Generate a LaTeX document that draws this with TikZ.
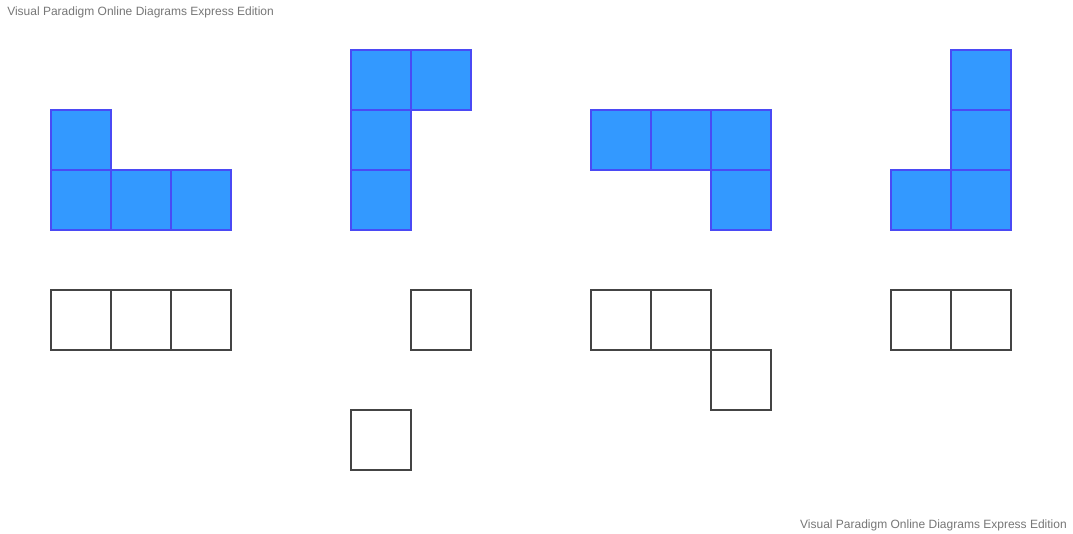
\documentclass[tikz,border=0pt]{standalone}
\usepackage{fontspec}
\setmainfont{Liberation Sans}
\definecolor{cellfill}{HTML}{3399FF}
\definecolor{cellline}{HTML}{4A4AF5}
\definecolor{emptyline}{HTML}{444444}
\definecolor{wm}{HTML}{777777}
\begin{document}
\begin{tikzpicture}[x=0.75pt,y=-0.75pt,
  bluecell/.style={fill=cellfill,draw=cellline,line width=0.9pt},
  emptycell/.style={draw=emptyline,line width=0.8pt},
  wmark/.style={text=wm,font=\fontsize{9}{11}\selectfont,inner sep=0pt}]
\useasboundingbox[fill=white] (0,0) rectangle (1073,534);
\node[wmark,anchor=base west] (wm1) at (7,16) {Visual Paradigm Online Diagrams Express Edition};
\node[wmark,anchor=base east] (wm2) at (1067,528) {Visual Paradigm Online Diagrams Express Edition};
% blue pieces
\foreach \x/\y in {51/110,51/170,111/170,171/170,
                   351/50,411/50,351/110,351/170,
                   591/110,651/110,711/110,711/170,
                   951/50,951/110,891/170,951/170}
  \draw[bluecell] (\x,\y) rectangle ++(60,60);
% empty cells
\foreach \x/\y in {51/290,111/290,171/290,
                   411/290,351/410,
                   591/290,651/290,711/350,
                   891/290,951/290}
  \draw[emptycell] (\x,\y) rectangle ++(60,60);
\end{tikzpicture}
\end{document}
